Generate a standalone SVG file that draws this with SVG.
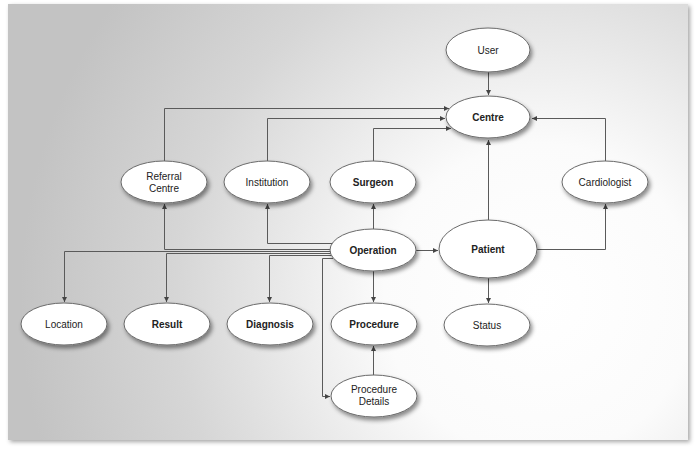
<svg xmlns="http://www.w3.org/2000/svg" width="700" height="450" viewBox="0 0 700 450">
  <defs>
    <radialGradient id="bg" gradientUnits="userSpaceOnUse" cx="540" cy="300" r="520" fx="540" fy="300">
      <stop offset="0" stop-color="#ffffff"/>
      <stop offset="0.3" stop-color="#fbfbfb"/>
      <stop offset="0.7" stop-color="#d6d6d6"/>
      <stop offset="1" stop-color="#c3c3c3"/>
    </radialGradient>
    <filter id="pageShadow" x="-5%" y="-5%" width="112%" height="112%">
      <feDropShadow dx="2" dy="2" stdDeviation="2" flood-color="#000" flood-opacity="0.35"/>
    </filter>
    <filter id="nodeShadow" x="-20%" y="-30%" width="150%" height="170%">
      <feDropShadow dx="2" dy="3" stdDeviation="2" flood-color="#000" flood-opacity="0.45"/>
    </filter>
    <marker id="arrow" markerUnits="userSpaceOnUse" markerWidth="6" markerHeight="6" refX="5" refY="2.5" orient="auto">
      <path d="M0,0 L5,2.5 L0,5 z" fill="#444"/>
    </marker>
  </defs>
  <style>
    .node ellipse { fill: #ffffff; stroke: #6a6a6a; stroke-width: 1; filter: url(#nodeShadow); }
    .node text { font-family: "Liberation Sans", Arial, sans-serif; font-size: 10px; fill: #222; text-anchor: middle; }
    .node text.b { font-weight: bold; }
    #connectors path { fill: none; stroke: #5a5a5a; stroke-width: 1; marker-end: url(#arrow); }
  </style>

  <rect x="8" y="4" width="680" height="436" fill="url(#bg)" filter="url(#pageShadow)"/>

  <g id="connectors">
    <path d="M488.5,71 L488.5,95"/>
    <path d="M164.5,161 L164.5,108.5 L449,108.5"/>
    <path d="M267.5,161 L267.5,118.5 L445,118.5"/>
    <path d="M373.5,161 L373.5,128.5 L451,128.5"/>
    <path d="M605.5,161 L605.5,118.5 L532,118.5"/>
    <path d="M488.5,220 L488.5,140"/>
    <path d="M537,249.5 L605.5,249.5 L605.5,204"/>
    <path d="M488.5,278 L488.5,303"/>
    <path d="M416,250.5 L438,250.5"/>
    <path d="M373.5,229 L373.5,204"/>
    <path d="M373.5,271 L373.5,302"/>
    <path d="M373.5,375 L373.5,346"/>
    <path d="M332,243.5 L267.5,243.5 L267.5,204"/>
    <path d="M331,249.5 L164.5,249.5 L164.5,204"/>
    <path d="M331,251.5 L64.5,251.5 L64.5,302"/>
    <path d="M331,253.5 L166.5,253.5 L166.5,302"/>
    <path d="M331.5,255.5 L269.5,255.5 L269.5,302"/>
    <path d="M333,258.5 L322.5,258.5 L322.5,396.5 L330,396.5"/>
  </g>

  <g id="user" class="node">
    <ellipse cx="488" cy="50" rx="42" ry="22"/>
    <text x="488" y="53.5">User</text>
  </g>
  <g id="centre" class="node">
    <ellipse cx="488" cy="117" rx="42" ry="21"/>
    <text class="b" x="488" y="120.5">Centre</text>
  </g>
  <g id="referral-centre" class="node">
    <ellipse cx="164" cy="182" rx="43" ry="21"/>
    <text x="164" y="180">Referral</text>
    <text x="164" y="192">Centre</text>
  </g>
  <g id="institution" class="node">
    <ellipse cx="267" cy="182" rx="43" ry="21"/>
    <text x="267" y="185.5">Institution</text>
  </g>
  <g id="surgeon" class="node">
    <ellipse cx="373" cy="182" rx="43" ry="21"/>
    <text class="b" x="373" y="185.5">Surgeon</text>
  </g>
  <g id="cardiologist" class="node">
    <ellipse cx="605" cy="182" rx="43" ry="21"/>
    <text x="605" y="185.5">Cardiologist</text>
  </g>
  <g id="operation" class="node">
    <ellipse cx="373" cy="250" rx="43" ry="21"/>
    <text class="b" x="373" y="253.5">Operation</text>
  </g>
  <g id="patient" class="node">
    <ellipse cx="488" cy="249" rx="49" ry="29"/>
    <text class="b" x="488" y="252.5">Patient</text>
  </g>
  <g id="location" class="node">
    <ellipse cx="64" cy="324" rx="43" ry="21"/>
    <text x="64" y="327.5">Location</text>
  </g>
  <g id="result" class="node">
    <ellipse cx="167" cy="324" rx="43" ry="21"/>
    <text class="b" x="167" y="327.5">Result</text>
  </g>
  <g id="diagnosis" class="node">
    <ellipse cx="270" cy="324" rx="43" ry="21"/>
    <text class="b" x="270" y="327.5">Diagnosis</text>
  </g>
  <g id="procedure" class="node">
    <ellipse cx="374" cy="324" rx="43" ry="21"/>
    <text class="b" x="374" y="327.5">Procedure</text>
  </g>
  <g id="status" class="node">
    <ellipse cx="487" cy="325" rx="43" ry="21"/>
    <text x="487" y="328.5">Status</text>
  </g>
  <g id="procedure-details" class="node">
    <ellipse cx="374" cy="396" rx="43" ry="21"/>
    <text x="374" y="392.5">Procedure</text>
    <text x="374" y="404.5">Details</text>
  </g>
</svg>
